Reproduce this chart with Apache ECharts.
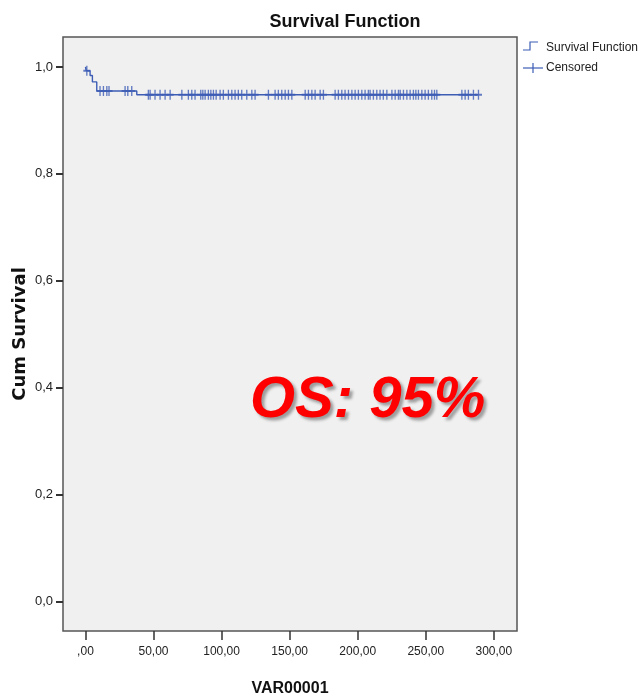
<!DOCTYPE html>
<html>
<head>
<meta charset="utf-8">
<script src="https://cdn.jsdelivr.net/npm/echarts@6/dist/echarts.min.js"></script>
<style>
    html, body { margin: 0; padding: 0; background: #fff; }
    #mainChart { width: 644px; height: 696px; }
</style>
</head>
<body>
<div id="mainChart"></div>
<script>
// survival step points [time, cum survival]
const survTimes = [0, 0.5, 3.4, 5.1, 8.3, 37.7, 288.7];
const survValues = [1.0, 0.993, 0.984, 0.972, 0.955, 0.948, 0.948];

// censored cases [time] on each survival level
const censTimes = [1, 10.7, 13.2, 15.7, 17.3, 29.1, 31.1, 34,
    46.2, 47.5, 51.1, 54.8, 58.5, 62.2, 70.8, 75.6, 78.1, 80.5, 84.7, 86.2, 87.9, 90.3,
    92.1, 94, 96, 98.9, 101.3, 105, 107.5, 109.9, 112.3, 114.8, 118.5, 122.2, 124.6,
    134.4, 139.3, 141.7, 144.2, 146.7, 149.1, 151.6, 161.4, 163.8, 166.3, 168.7, 172.4,
    174.8, 183.4, 185.8, 188.3, 190.7, 193.2, 195.7, 198.1, 200.5, 203, 205.4, 207.8,
    209.1, 211.5, 214, 216.4, 218.8, 221.4, 225.1, 227.5, 229.9, 231.2, 233.6, 236.1,
    238.5, 240.9, 242.7, 244.6, 247.1, 249.5, 251.9, 254.4, 256.4, 258.1, 276.5, 278.9,
    281.3, 285, 288.7];

const xTicks = [0, 50, 100, 150, 200, 250, 300];
const yTicks = [0, 0.2, 0.4, 0.6, 0.8, 1.0];

const lineColor = '#3d5db5';
const sans = "'Liberation Sans', Arial, sans-serif";

// survival value at time t (step function)
function survAt(t) {
    let s = survValues[0];
    for (let i = 0; i < survTimes.length; i++) {
        if (survTimes[i] <= t) s = survValues[i];
    }
    return s;
}

const survData = survTimes.map(function (t, i) { return [t, survValues[i]]; });
const censData = censTimes.map(function (t) { return [t, survAt(t)]; });

const myChart = echarts.init(document.getElementById('mainChart'));
const option = {
    backgroundColor: '#ffffff',
    animation: false,
    title: {
        text: 'Survival Function',
        left: 340,
        top: 8,
        textAlign: 'center',
        textStyle: {
            fontFamily: sans,
            fontWeight: 'bold',
            fontSize: 18,
            color: '#111'
        }
    },
    grid: {
        left: 63,
        right: 127,
        top: 37,
        bottom: 65,
        outerBoundsMode: 'none',
        containLabel: false,
        show: true,
        backgroundColor: '#f0f0f0',
        borderColor: '#555',
        borderWidth: 1.5
    },
    xAxis: {
        type: 'value',
        min: -16.5,
        max: 317,
        name: 'VAR00001',
        nameLocation: 'middle',
        nameGap: 50,
        nameMoveOverlap: false,
        nameTextStyle: {
            fontFamily: sans,
            fontWeight: 'bold',
            fontSize: 16,
            color: '#111'
        },
        splitLine: { show: false },
        axisLine: { show: false, onZero: false },
        axisTick: {
            show: true,
            length: 9,
            customValues: xTicks,
            lineStyle: { color: '#333', width: 1.5 }
        },
        axisLabel: {
            customValues: xTicks,
            margin: 15,
            fontFamily: sans,
            fontSize: 12,
            color: '#222',
            formatter: function (v) {
                return v === 0 ? ',00' : v.toFixed(2).replace('.', ',');
            }
        }
    },
    yAxis: {
        type: 'value',
        min: -0.055,
        max: 1.056,
        name: 'Cum Survival',
        nameLocation: 'middle',
        nameGap: 34,
        nameMoveOverlap: false,
        nameTextStyle: {
            fontFamily: "'DejaVu Sans', sans-serif",
            fontWeight: 'bold',
            fontSize: 18,
            color: '#111'
        },
        splitLine: { show: false },
        axisLine: { show: false, onZero: false },
        axisTick: {
            show: true,
            length: 7,
            customValues: yTicks,
            lineStyle: { color: '#333', width: 2 }
        },
        axisLabel: {
            customValues: yTicks,
            margin: 10,
            fontFamily: sans,
            fontSize: 13,
            color: '#222',
            formatter: function (v) {
                return v.toFixed(1).replace('.', ',');
            }
        }
    },
    series: [
        {
            name: 'Survival Function',
            type: 'line',
            step: 'end',
            showSymbol: false,
            data: survData,
            lineStyle: { color: lineColor, width: 1.4 },
            z: 3
        },
        {
            name: 'Censored',
            type: 'scatter',
            data: censData,
            symbol: 'path://M5,0L5,10M0,5L10,5',
            symbolSize: [7, 10],
            itemStyle: {
                color: 'transparent',
                borderColor: lineColor,
                borderWidth: 1.6
            },
            z: 4
        }
    ],
    graphic: [
        {
            type: 'polyline',
            shape: { points: [[523, 50], [530, 50], [530, 42], [538, 42]] },
            style: { stroke: lineColor, lineWidth: 1.2, fill: null }
        },
        {
            type: 'text',
            left: 546,
            top: 42,
            style: { text: 'Survival Function', font: '12px ' + sans, fill: '#222' }
        },
        {
            type: 'line',
            shape: { x1: 523, y1: 68, x2: 543, y2: 68 },
            style: { stroke: lineColor, lineWidth: 1.2 }
        },
        {
            type: 'line',
            shape: { x1: 533, y1: 63, x2: 533, y2: 73 },
            style: { stroke: lineColor, lineWidth: 1.2 }
        },
        {
            type: 'text',
            left: 546,
            top: 62,
            style: { text: 'Censored', font: '12px ' + sans, fill: '#222' }
        },
        {
            type: 'text',
            left: 250,
            top: 372,
            z: 10,
            style: {
                text: 'OS: 95%',
                font: 'italic bold 58px "Liberation Sans", Arial, sans-serif',
                fill: '#ff0000',
                textShadowColor: 'rgba(0,0,0,0.35)',
                textShadowOffsetX: 3,
                textShadowOffsetY: 3,
                textShadowBlur: 3
            }
        }
    ]
};
myChart.setOption(option);
</script>
</body>
</html>
